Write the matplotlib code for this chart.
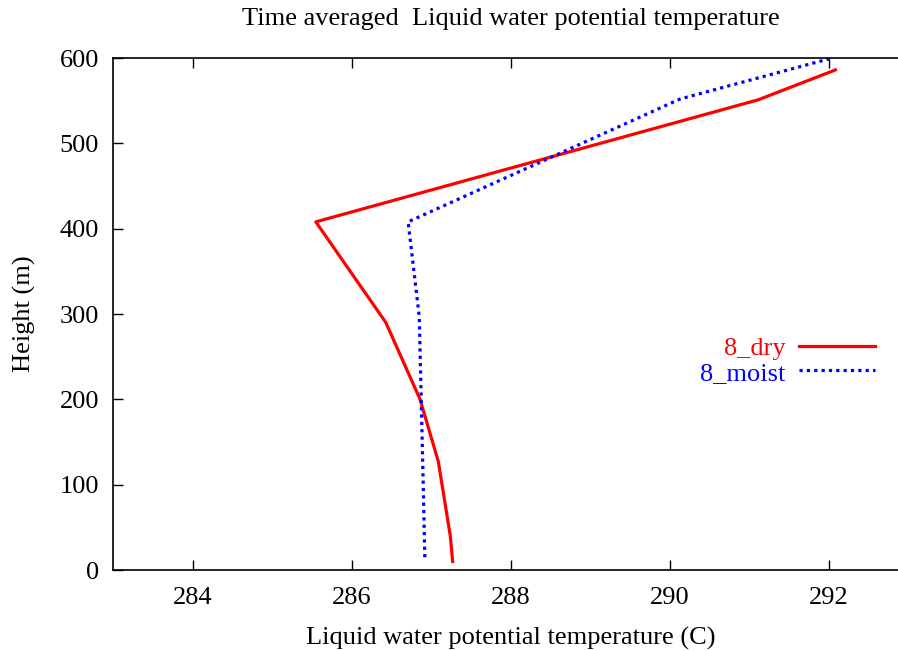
import matplotlib
matplotlib.use("Agg")
import matplotlib.pyplot as plt

plt.rcParams['font.family'] = ['Liberation Serif', 'DejaVu Serif']

# 8_dry profile
dry_temp = [287.27, 287.24, 287.09, 286.86, 286.43, 285.55, 291.11, 292.08]
dry_height = [10, 40, 127, 200, 290, 408, 551, 586]

# 8_moist profile
moist_temp = [286.92, 286.90, 286.87, 286.85, 286.71, 290.13, 292.04]
moist_height = [15, 100, 219, 297, 408, 552, 600]

x_ticks = [284, 286, 288, 290, 292]
y_ticks = [0, 100, 200, 300, 400, 500, 600]

fig = plt.figure(figsize=(8.98, 6.51), dpi=100)
ax = fig.add_axes([0.1258, 0.1244, 0.8859, 0.7865])

ax.plot(dry_temp, dry_height, color="red", lw=2.3, label="8_dry")
ax.plot(moist_temp, moist_height, color="blue", lw=2.3,
        linestyle=(0, (1, 1.3)), label="8_moist")

ax.set_xlim(283, 293)
ax.set_ylim(0, 600)
ax.set_xticks(x_ticks)
ax.set_yticks(y_ticks)
ax.tick_params(direction="in", top=True, right=True, length=7, width=1,
               labelsize=19)
ax.tick_params(axis="x", pad=12)
ax.tick_params(axis="y", pad=10)
for s in ax.spines.values():
    s.set_linewidth(1.2)

ax.set_title("Time averaged  Liquid water potential temperature",
             fontsize=19, pad=24)
ax.set_xlabel("Liquid water potential temperature (C)", fontsize=19, labelpad=13)
ax.set_ylabel("Height (m)", fontsize=19, labelpad=17)

leg = ax.legend(loc="center right", bbox_to_anchor=(0.975, 0.409),
                borderpad=0, frameon=False, fontsize=19, markerfirst=False,
                handlelength=2.9, handletextpad=0.5, labelspacing=0.05)
for txt, line in zip(leg.get_texts(), leg.get_lines()):
    txt.set_color(line.get_color())
    txt.set_ha("right")

fig.savefig("out.png", dpi=100)
